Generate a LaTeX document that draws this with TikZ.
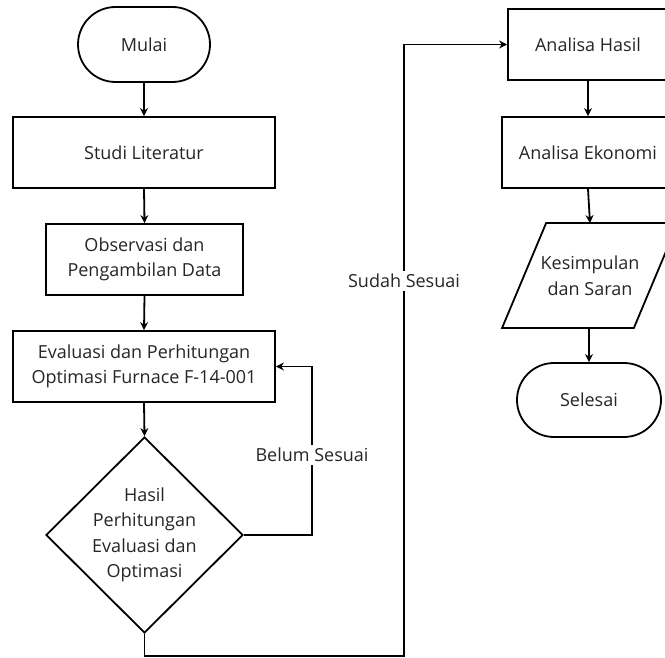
\documentclass[tikz,border=0pt]{standalone}
\usepackage{fontspec}
\setmainfont{Open Sans}
\usetikzlibrary{shapes.misc,shapes.geometric,arrows.meta}
\begin{document}
\begin{tikzpicture}[x=1pt,y=-1pt,
  font=\fontsize{18}{25.5}\selectfont,
  line width=1.8pt,
  box/.style={draw, rectangle, align=center, inner sep=0pt, text=black!85},
  term/.style={draw, rounded rectangle, align=center, inner sep=0pt, text=black!85},
  conn/.style={-{Stealth[length=8pt,width=8pt]}},
  lbl/.style={fill=white, inner sep=3pt, text=black!85}]
\useasboundingbox (0,0) rectangle (665,658);
\clip (0,0) rectangle (665,658);
\fill[white] (0,0) rectangle (665,658);
% left column
\node[term, minimum width=132pt, minimum height=75pt] (mulai) at (144,44.5) {Mulai};
\node[box, minimum width=262pt, minimum height=71pt] (studi) at (144,152.5) {Studi Literatur};
\node[box, minimum width=197pt, minimum height=71pt] (obs) at (144.5,259.5) {Observasi dan\\Pengambilan Data};
\node[box, minimum width=262pt, minimum height=71pt] (eval) at (144,366.5) {Evaluasi dan Perhitungan\\Optimasi Furnace F-14-001};
\node[draw, diamond, minimum width=197pt, minimum height=196pt, inner sep=0pt] (dec) at (144.5,535) {};
\node[align=center, text=black!85] (dectext) at (dec.center) {Hasil\\Perhitungan\\Evaluasi dan\\Optimasi};
% right column
\node[box, minimum width=160pt, minimum height=71pt] (anh) at (588,44.5) {Analisa Hasil};
\node[box, minimum width=172pt, minimum height=71pt] (ane) at (588,152.5) {Analisa Ekonomi};
\node[align=center, minimum width=174pt, minimum height=103pt, inner sep=0pt, text=black!85] (kes) at (590,275.5) {Kesimpulan\\dan Saran};
\draw ([xshift=44pt]kes.north west) -- (kes.north east) -- ([xshift=-44pt]kes.south east) -- (kes.south west) -- cycle;
\node[term, minimum width=144pt, minimum height=74pt] (sel) at (589,400) {Selesai};
% connectors
\draw[conn] (mulai.south) -- (studi.north);
\draw[conn] (studi.south) -- (obs.north);
\draw[conn] (obs.south) -- (eval.north);
\draw[conn] (eval.south) -- (dec.north);
\coordinate (loopc) at (312,535);
\draw[conn] (dec.east) -- (loopc) |- (eval.east);
\coordinate (bend) at (404,656);
\draw[conn] (dec.south) |- (bend) |- (anh.west);
\draw[conn] (anh.south) -- (ane.north);
\draw[conn] (ane.south) -- (kes.north);
\draw[conn] (kes.south -| sel.north) -- (sel.north);
% labels
\node[lbl] (belum) at (312,455) {Belum Sesuai};
\node[lbl] (sudah) at (404,281) {Sudah Sesuai};
\end{tikzpicture}
\end{document}
